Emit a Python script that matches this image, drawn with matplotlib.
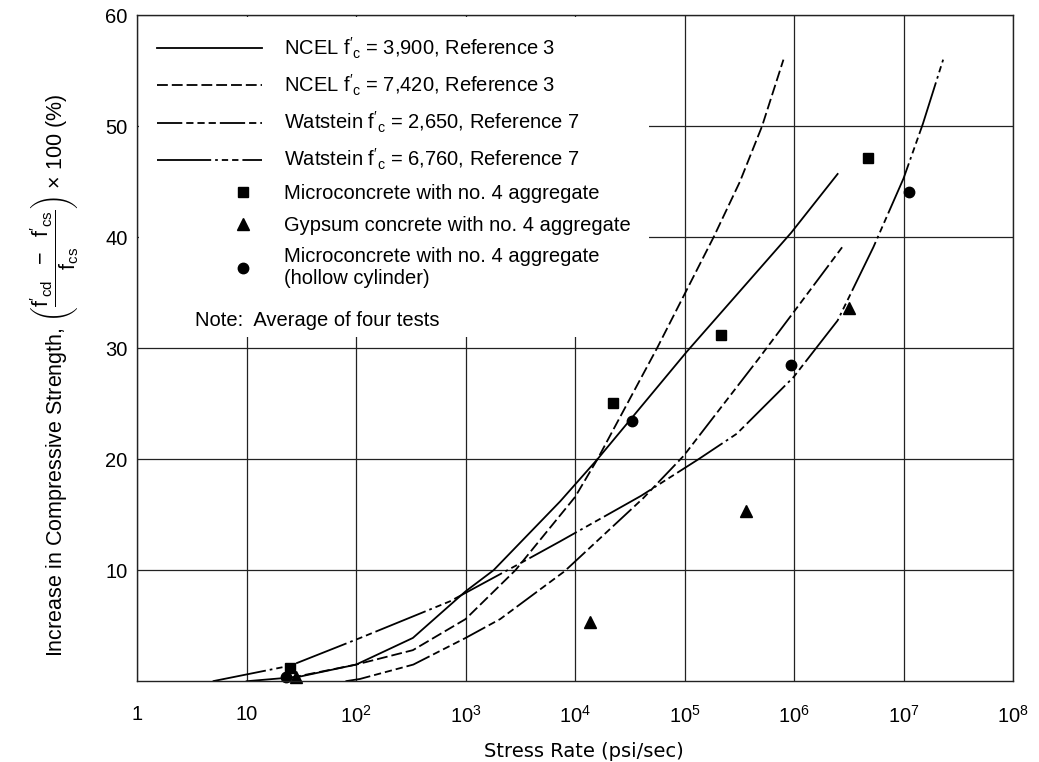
import numpy as np
import matplotlib
matplotlib.use('Agg')
import matplotlib.pyplot as plt
from matplotlib.lines import Line2D
from matplotlib.legend_handler import HandlerLine2DCompound

plt.rcParams['font.family'] = ['Liberation Sans', 'DejaVu Sans']
plt.rcParams['mathtext.fontset'] = 'custom'
plt.rcParams['mathtext.rm'] = 'Liberation Sans'
plt.rcParams['mathtext.it'] = 'Liberation Sans:italic'
plt.rcParams['mathtext.bf'] = 'Liberation Sans:bold'

# curves (stress rate in psi/sec, increase in %)
ncel_3900_x = [10, 30, 100, 330, 1000, 1800, 7300, 1.6e4, 1.05e5, 9.4e5, 2.5e6]
ncel_3900_y = [0, 0.4, 1.5, 3.9, 8.1, 10.0, 16.2, 20.0, 29.7, 40.4, 45.7]

ncel_7420_x = [25, 100, 330, 1000, 2850, 1e4, 1.6e4, 5.6e4, 1.84e5, 3.2e5, 5.1e5, 8e5]
ncel_7420_y = [0.3, 1.5, 2.8, 5.6, 10.0, 16.6, 20.0, 30.0, 40.0, 45.0, 50.0, 56.0]

wat_2650_x = [80, 108, 333, 1000, 2070, 8000, 4.2e4, 9.8e4, 4.7e5, 1e6, 2.75e6]
wat_2650_y = [0, 0.2, 1.5, 3.9, 5.6, 9.9, 16.5, 20.3, 29.0, 33.3, 39.1]

wat_6760_x = [4.9, 25, 109, 720, 3400, 7300, 4e4, 1.34e5, 3e5, 9.9e5, 2.5e6,
              5.3e6, 1e7, 1.5e7, 2.3e7]
wat_6760_y = [0, 1.4, 3.9, 7.2, 10.8, 12.6, 16.7, 20.0, 22.3, 27.4, 32.5,
              39.1, 45.3, 50.2, 56.0]

# test points
micro_x = [25, 2.24e4, 2.13e5, 4.7e6]
micro_y = [1.2, 25.1, 31.2, 47.1]
gypsum_x = [28, 1.38e4, 3.64e5, 3.2e6]
gypsum_y = [0.4, 5.3, 15.3, 33.6]
hollow_x = [23, 3.3e4, 9.4e5, 1.13e7]
hollow_y = [0.4, 23.4, 28.5, 44.1]

xtick_vals = [1, 10, 1e2, 1e3, 1e4, 1e5, 1e6, 1e7, 1e8]
xtick_labels = ['1', '10', r'$10^2$', r'$10^3$', r'$10^4$', r'$10^5$',
                r'$10^6$', r'$10^7$', r'$10^8$']
ytick_vals = [10, 20, 30, 40, 50, 60]

labels = [r"NCEL $\mathrm{f}'_\mathrm{c}$ = 3,900, Reference 3",
          r"NCEL $\mathrm{f}'_\mathrm{c}$ = 7,420, Reference 3",
          r"Watstein $\mathrm{f}'_\mathrm{c}$ = 2,650, Reference 7",
          r"Watstein $\mathrm{f}'_\mathrm{c}$ = 6,760, Reference 7",
          'Microconcrete with no. 4 aggregate',
          'Gypsum concrete with no. 4 aggregate',
          'Microconcrete with no. 4 aggregate\n(hollow cylinder)',
          ' ']


class MarkerRight(HandlerLine2DCompound):
    # marker sits near the right end of the legend key
    def get_xdata(self, legend, xdescent, ydescent, width, height, fontsize):
        xdata, _ = super().get_xdata(legend, xdescent, ydescent, width, height, fontsize)
        return xdata, np.array([-xdescent + 0.82 * width])


fig = plt.figure(figsize=(10.39, 7.62), dpi=100)
ax = fig.add_axes([0.132, 0.106, 0.843, 0.874])

lw = 1.3
l1, = ax.plot(ncel_3900_x, ncel_3900_y, color='black', lw=lw, linestyle='-')
l2, = ax.plot(ncel_7420_x, ncel_7420_y, color='black', lw=lw,
              linestyle=(0, (6, 2.2)))
l3, = ax.plot(wat_2650_x, wat_2650_y, color='black', lw=lw,
              linestyle=(0, (14, 2.2, 4, 2.2, 4, 2.2, 4, 2.2)))
l4, = ax.plot(wat_6760_x, wat_6760_y, color='black', lw=lw,
              linestyle=(0, (30, 2.2, 1.5, 2.2, 3.5, 2.2, 3.5, 2.2)))

sq, = ax.plot(micro_x, micro_y, 's', color='black', ms=7, ls='none', clip_on=False)
tri, = ax.plot(gypsum_x, gypsum_y, '^', color='black', ms=8, ls='none', clip_on=False)
circ, = ax.plot(hollow_x, hollow_y, 'o', color='black', ms=7.5, ls='none', clip_on=False)
blank = Line2D([], [], ls='none')

ax.set_xscale('log')
ax.set_xlim(1, 1e8)
ax.set_ylim(0, 60)
ax.set_xticks(xtick_vals)
ax.set_xticklabels(xtick_labels)
ax.minorticks_off()
ax.set_yticks(ytick_vals)
ax.tick_params(length=0, labelsize=14.5)
ax.tick_params(axis='x', pad=17)
ax.tick_params(axis='y', pad=7)
ax.grid(True, color='#222222', lw=0.9)
ax.set_axisbelow(True)
for s in ax.spines.values():
    s.set_color('#222222')
    s.set_linewidth(1.0)

ax.set_xlabel('Stress Rate (psi/sec)', fontsize=14, family='DejaVu Sans')
ax.xaxis.set_label_coords(0.51, -0.092)
ax.set_ylabel(r"Increase in Compressive Strength, "
              r"$\left(\dfrac{\mathrm{f}'_\mathrm{cd}\ \ -\ \ \mathrm{f}'_\mathrm{cs}}"
              r"{\mathrm{f}_\mathrm{cs}}\right)$ × 100 (%)",
              fontsize=15.5)
ax.yaxis.set_label_coords(-0.064, 0.46)

leg = ax.legend([l1, l2, l3, l4, sq, tri, circ, blank], labels,
                loc='upper left', bbox_to_anchor=(0.002, 0.997),
                borderaxespad=0, fontsize=14.5, handlelength=5.2,
                handletextpad=1.1, labelspacing=0.6, borderpad=0.9,
                numpoints=1, fancybox=False, frameon=True,
                handler_map={sq: MarkerRight(), tri: MarkerRight(),
                             circ: MarkerRight()})
leg.get_frame().set_facecolor('white')
leg.get_frame().set_edgecolor('none')
leg.get_frame().set_alpha(1)

ax.text(0.066, 0.542, 'Note:  Average of four tests', transform=ax.transAxes,
        fontsize=14.5, ha='left', va='center', zorder=6)

fig.savefig('out.png', dpi=100)
